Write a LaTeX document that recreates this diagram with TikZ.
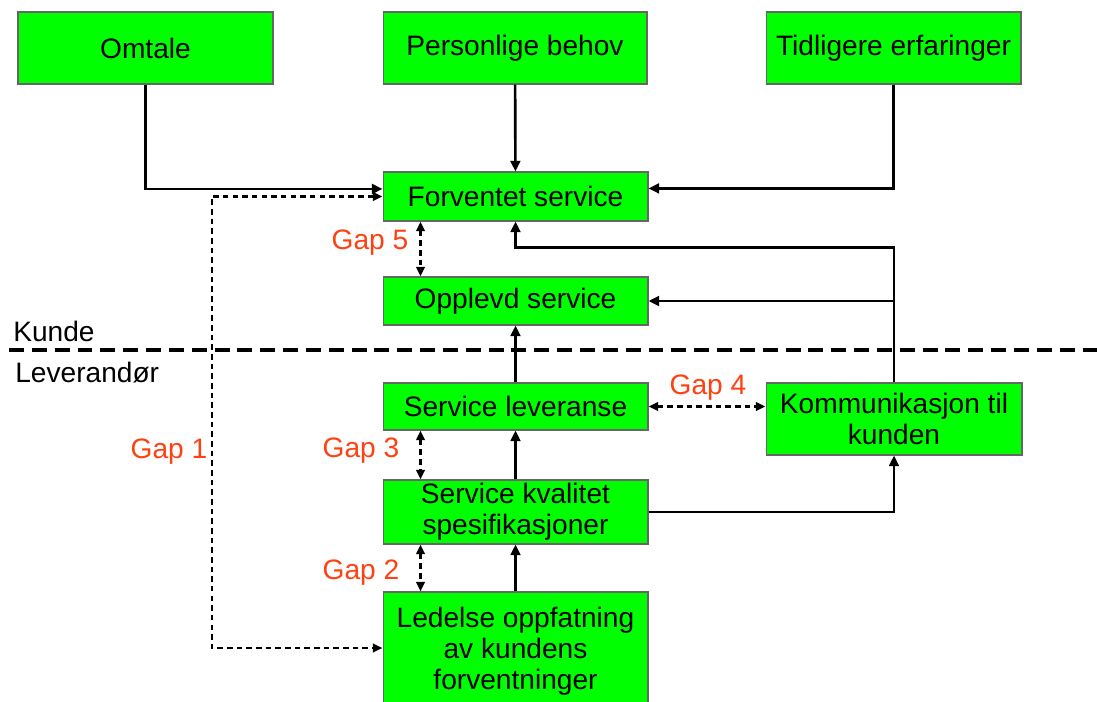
\documentclass[tikz,border=0pt]{standalone}
\usepackage{fontspec}
\setmainfont{Liberation Sans}
\usetikzlibrary{arrows.meta, calc, positioning}
\definecolor{boksgronn}{RGB}{0,255,0}
\definecolor{gaprod}{RGB}{255,64,16}

\begin{document}
\begin{tikzpicture}[x=0.02cm, y=-0.02cm,
    every node/.style={font=\fontsize{16}{17.6}\selectfont},
    boks/.style={draw=black!60, line width=0.6pt, fill=boksgronn, align=center, inner sep=0pt},
    pil/.style={line width=1.5pt, -{Triangle[length=6pt, width=5.5pt]}},
    gappil/.style={line width=1.4pt, dash pattern=on 3.2pt off 2.3pt, {Triangle[length=5.5pt, width=4.8pt]}-{Triangle[length=5.5pt, width=4.8pt]}},
    gaptekst/.style={text=gaprod}]
        \useasboundingbox (0,0) rectangle (1097,702);

        % kundesiden
        \node[boks, minimum width=5.1cm, minimum height=1.44cm] at (145.5,48) (omtale) {Omtale};
        \node[boks, minimum width=5.28cm, minimum height=1.44cm] at (515,48) (behov) {Personlige behov};
        \node[boks, minimum width=5.1cm, minimum height=1.44cm] at (893.5,48) (erfaring) {Tidligere erfaringer};
        \node[boks, minimum width=5.3cm, minimum height=0.98cm] at (515.5,196.5) (forventet) {Forventet service};
        \node[boks, minimum width=5.3cm, minimum height=0.96cm] at (515.5,301) (opplevd) {Opplevd service};

        % leverandorsiden
        \node[boks, minimum width=5.3cm, minimum height=0.94cm] at (515.5,406.5) (leveranse) {Service leveranse};
        \node[boks, minimum width=5.3cm, minimum height=1.28cm] at (515.5,512) (spes) {Service kvalitet\\ spesifikasjoner};
        \node[boks, minimum width=5.3cm, minimum height=2.36cm] at (515.5,651) (ledelse) {Ledelse oppfatning\\ av kundens\\ forventninger};
        \node[boks, minimum width=5.12cm, minimum height=1.44cm] at (894,419) (kommunikasjon) {Kommunikasjon til\\ kunden};

        % skillelinje
        \coordinate (skille1) at (9,350);
        \coordinate (skille2) at (1097,350);
        \draw[line width=2.3pt, dash pattern=on 8.5pt off 4.5pt] (skille1) -- (skille2);
        \node[right, inner sep=0pt] at (13,331) (kunde) {Kunde};
        \node[right, inner sep=0pt] at (15,373) (leverandor) {Leverandør};

        % piler
        \draw[pil] (omtale.south) |- ([yshift=4.3pt]forventet.west);
        \draw[pil] (behov) -- (forventet);
        \draw[pil] (erfaring.south) |- ([yshift=4.6pt]forventet.east);
        \draw[pil] (kommunikasjon.north) |- ($(forventet.south)+(0,26)$) -- (forventet.south);
        \draw[pil] (kommunikasjon.north |- opplevd.east) -- (opplevd.east);
        \draw[pil] (leveranse) -- (opplevd);
        \draw[pil] (spes) -- (leveranse);
        \draw[pil] (ledelse) -- (spes);
        \draw[pil] (spes.east) -| (kommunikasjon.south);

        % gap
        \coordinate (g1) at (212,0);
        \coordinate (g1slutt) at ([yshift=1.7pt]ledelse.west);
        \draw[gappil] (forventet.west) -- (forventet.west -| g1) -- (g1slutt -| g1) -- (g1slutt);
        \draw[gappil] ([xshift=-1.9cm]forventet.south) -- ([xshift=-1.9cm]opplevd.north);
        \draw[gappil] ([xshift=-1.9cm]leveranse.south) -- ([xshift=-1.9cm]spes.north);
        \draw[gappil] ([xshift=-1.9cm]spes.south) -- ([xshift=-1.9cm]ledelse.north);
        \draw[gappil] (leveranse.east) -- (leveranse.east -| kommunikasjon.west);
        \node[gaptekst] at (169,452) (gap1) {Gap 1};
        \node[gaptekst] at (361,573) (gap2) {Gap 2};
        \node[gaptekst] at (361,451) (gap3) {Gap 3};
        \node[gaptekst] at (708,388) (gap4) {Gap 4};
        \node[gaptekst] at (370,243) (gap5) {Gap 5};
\end{tikzpicture}
\end{document}
